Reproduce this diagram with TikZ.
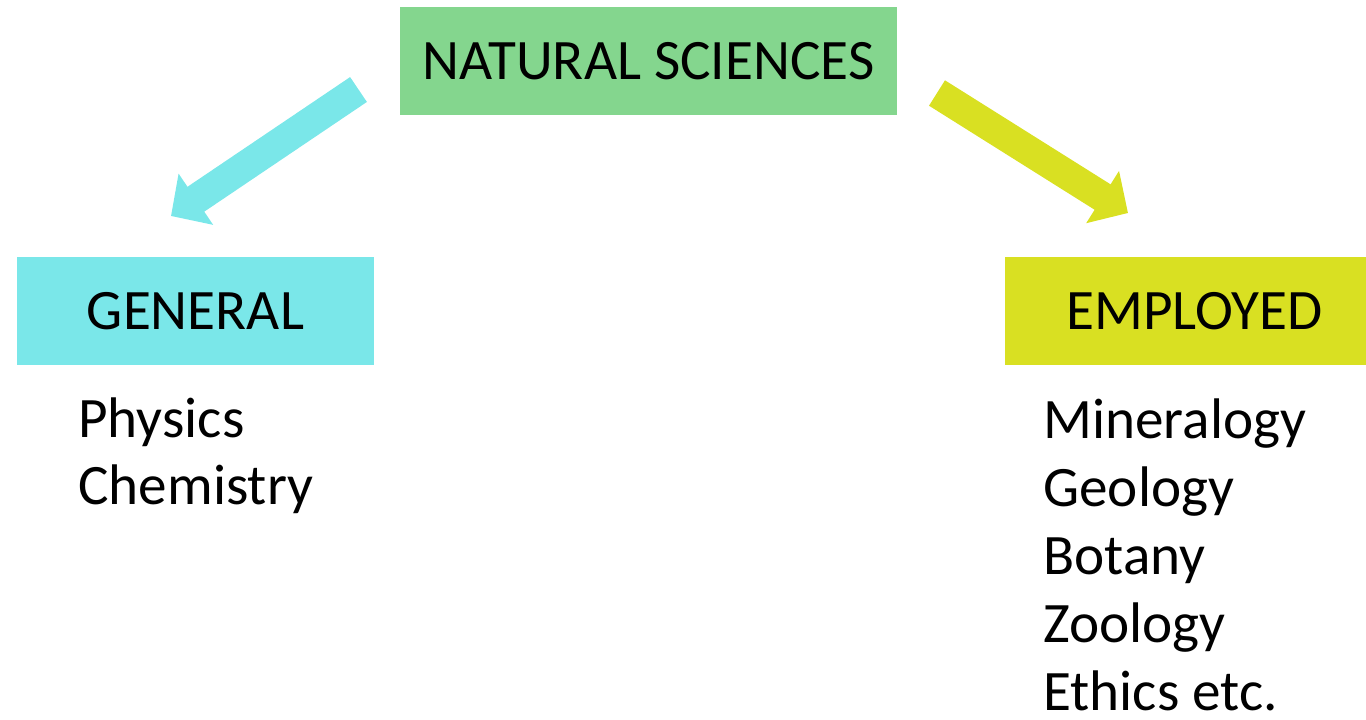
\documentclass[tikz,border=0pt]{standalone}
\usepackage{fontspec}
\setmainfont{Carlito}
\usetikzlibrary{arrows.meta}
\definecolor{natgreen}{RGB}{132,214,142}
\definecolor{gencyan}{RGB}{122,231,233}
\definecolor{empyellow}{RGB}{217,224,34}

\begin{document}
\begin{tikzpicture}[x=0.5pt,y=-0.5pt,font=\fontsize{28.6}{34}\selectfont]
    \tikzstyle{head box}=[inner sep=0,minimum height=54pt]
    \tikzstyle{item}=[inner sep=0,anchor=base west]
    \tikzstyle{fat arrow}=[line width=15pt,-{Triangle[width=30pt,length=15pt]}]

    \useasboundingbox (0,0) rectangle (1366,719);

    \node(nat)[head box,fill=natgreen,minimum width=248.5pt] at (648.5,61){NATURAL SCIENCES};
    \node(gen)[head box,fill=gencyan,minimum width=178.5pt] at (195.5,311){GENERAL};
    \node(emp)[head box,fill=empyellow,minimum width=180.5pt] at (1185.5,311){\hspace*{9pt}EMPLOYED};

    \foreach \name [count=\i] in {Physics,Chemistry}
        \node(gen\i)[item] at (78,{437+67*(\i-1)}){\name};
    \foreach \name [count=\i] in {Mineralogy,Geology,Botany,Zoology,Ethics etc.}
        \node(emp\i)[item] at (1043,{438+68*(\i-1)}){\name};

    \coordinate (gs) at (358.5,89.5);
    \coordinate (gt) at (171,216);
    \coordinate (es) at (937,93);
    \coordinate (et) at (1128,213);
    \draw[fat arrow,color=gencyan](gs)--(gt);
    \draw[fat arrow,color=empyellow](es)--(et);
\end{tikzpicture}
\end{document}
